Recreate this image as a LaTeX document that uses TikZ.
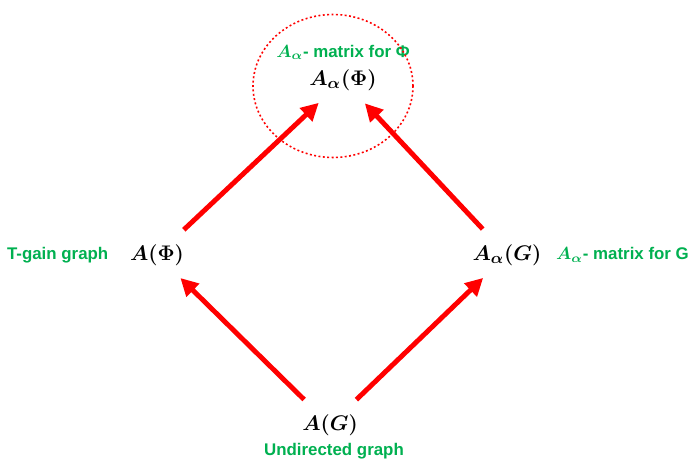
\documentclass[tikz,border=0pt]{standalone}
\definecolor{notegreen}{RGB}{0,176,80}
\definecolor{arrowred}{RGB}{255,0,0}
\usepackage{amsmath,amssymb}
\usepackage{fontspec}
\setsansfont{Liberation Sans}
\usepackage{tikz}
\usetikzlibrary{shapes,arrows.meta,positioning}

\tikzset{
  matnode/.style={inner sep=2pt, font=\fontsize{13}{15}\selectfont},
  notelabel/.style={inner sep=1pt, text=notegreen, font=\sffamily\bfseries\fontsize{9.6}{11}\selectfont},
  redarrow/.style={draw=arrowred, line width=2.8pt, -{Triangle[length=10pt,width=10pt]},
                   shorten <=9pt, shorten >=7pt}
}

\begin{document}
\begin{tikzpicture}[x=0.02cm, y=-0.02cm]
\useasboundingbox (0,0) rectangle (690,462);

% matrices
\node[matnode] (aphi) at (343,80) {$\boldsymbol{A_\alpha(\Phi)}$};
\node[matnode] (phi) at (157,255) {$\boldsymbol{A(\Phi)}$};
\node[matnode] (ag) at (507,255) {$\boldsymbol{A_\alpha(G)}$};
\node[matnode] (g) at (330,425) {$\boldsymbol{A(G)}$};

% green notes
\node[notelabel, above=2pt of aphi] (aphinote) {$\boldsymbol{A_\alpha}$- matrix for Φ};
\node[notelabel, left=9pt of phi] (phinote) {T-gain graph};
\node[notelabel, right=5pt of ag] (agnote) {$\boldsymbol{A_\alpha}$- matrix for G};
\node[notelabel] (gnote) at (334,451) {Undirected graph};

% dotted ring round the top
\coordinate (ringc) at (333,86);
\draw[arrowred, dash pattern=on 1.1pt off 1.4pt, line width=0.9pt]
  (ringc) ellipse [x radius=1.6cm, y radius=1.43cm];

% arrows
\draw[redarrow] (g) -- (phi);
\draw[redarrow] (g) -- (ag);
\draw[redarrow] (phi) -- (aphi);
\draw[redarrow] (ag) -- (aphi);
\end{tikzpicture}
\end{document}
